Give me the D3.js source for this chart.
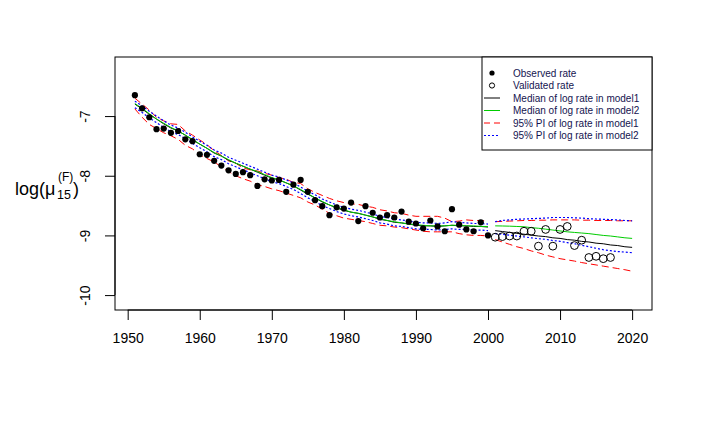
<!DOCTYPE html>
<html>
<head>
<meta charset="utf-8">
<script src="https://cdn.jsdelivr.net/npm/d3@7"></script>
<style>
  body { margin: 0; background: #fff; }
  text { font-family: "Liberation Sans", Arial, sans-serif; }
</style>
</head>
<body>
<div id="chart"></div>
<script>
// years
var fitYears  = d3.range(1951, 2001);
var predYears = d3.range(2001, 2021);
var obsYears  = d3.range(1951, 2001);
var valYears  = d3.range(2001, 2018);

// observed log rates 1951-2000
var observed = [
  -6.65, -6.87, -7.02, -7.22, -7.21, -7.28, -7.25, -7.39, -7.42, -7.64,
  -7.65, -7.75, -7.83, -7.91, -7.97, -7.94, -7.99, -8.17, -8.06, -8.08,
  -8.07, -8.27, -8.15, -8.07, -8.27, -8.41, -8.51, -8.66, -8.53, -8.55,
  -8.45, -8.76, -8.51, -8.62, -8.70, -8.66, -8.70, -8.60, -8.77, -8.80,
  -8.88, -8.75, -8.85, -8.93, -8.56, -8.82, -8.90, -8.93, -8.78, -9.00
];

// validation rates 2001-2017
var validated = [
  -9.03, -9.02, -9.01, -9.01, -8.93, -8.93, -9.18, -8.90, -9.18, -8.90,
  -8.85, -9.17, -9.08, -9.37, -9.35, -9.39, -9.37
];

// fitted medians and 95% PI, 1951-2000
var fitMed1 = [
  -6.80, -6.88, -6.97, -7.05, -7.13, -7.20, -7.25, -7.32, -7.40, -7.47,
  -7.54, -7.62, -7.67, -7.74, -7.79, -7.84, -7.89, -7.94, -7.99, -8.04,
  -8.07, -8.12, -8.17, -8.24, -8.31, -8.37, -8.44, -8.49, -8.54, -8.58,
  -8.61, -8.63, -8.66, -8.69, -8.73, -8.75, -8.78, -8.79, -8.81, -8.83,
  -8.84, -8.84, -8.85, -8.84, -8.83, -8.84, -8.84, -8.85, -8.85, -8.86
];
var fitMed2 = [
  -6.79, -6.87, -6.96, -7.05, -7.12, -7.19, -7.25, -7.32, -7.39, -7.47,
  -7.54, -7.61, -7.67, -7.73, -7.79, -7.84, -7.89, -7.93, -7.98, -8.03,
  -8.07, -8.12, -8.17, -8.23, -8.30, -8.37, -8.43, -8.49, -8.53, -8.57,
  -8.61, -8.63, -8.66, -8.69, -8.72, -8.75, -8.77, -8.79, -8.81, -8.82,
  -8.83, -8.84, -8.84, -8.84, -8.83, -8.83, -8.84, -8.84, -8.85, -8.85
];
var fitLo1 = [
  -6.88, -7.02, -7.14, -7.21, -7.28, -7.33, -7.39, -7.49, -7.55, -7.65,
  -7.71, -7.77, -7.85, -7.93, -8.00, -8.05, -8.09, -8.15, -8.18, -8.22,
  -8.25, -8.29, -8.33, -8.37, -8.44, -8.49, -8.56, -8.63, -8.67, -8.71,
  -8.73, -8.75, -8.77, -8.80, -8.83, -8.84, -8.86, -8.87, -8.89, -8.91,
  -8.93, -8.94, -8.94, -8.94, -8.94, -8.97, -8.99, -9.00, -9.00, -9.01
];
var fitHi1 = [
  -6.70, -6.80, -6.90, -7.02, -7.08, -7.13, -7.14, -7.25, -7.32, -7.40,
  -7.48, -7.58, -7.66, -7.75, -7.79, -7.87, -7.90, -7.92, -7.96, -7.99,
  -8.03, -8.06, -8.11, -8.13, -8.22, -8.28, -8.33, -8.38, -8.42, -8.45,
  -8.47, -8.48, -8.51, -8.53, -8.57, -8.59, -8.62, -8.63, -8.66, -8.68,
  -8.68, -8.68, -8.68, -8.71, -8.77, -8.76, -8.74, -8.75, -8.75, -8.76
];
var fitLo2 = [
  -6.86, -6.94, -7.03, -7.11, -7.19, -7.26, -7.31, -7.38, -7.46, -7.53,
  -7.60, -7.68, -7.73, -7.80, -7.85, -7.90, -7.95, -8.00, -8.05, -8.10,
  -8.13, -8.18, -8.23, -8.30, -8.37, -8.43, -8.50, -8.55, -8.60, -8.64,
  -8.67, -8.69, -8.72, -8.75, -8.79, -8.81, -8.84, -8.85, -8.87, -8.89,
  -8.90, -8.90, -8.91, -8.90, -8.89, -8.90, -8.90, -8.91, -8.91, -8.92
];
var fitHi2 = [
  -6.75, -6.83, -6.92, -7.00, -7.08, -7.15, -7.20, -7.27, -7.35, -7.42,
  -7.49, -7.57, -7.62, -7.69, -7.74, -7.79, -7.84, -7.89, -7.94, -7.99,
  -8.02, -8.07, -8.12, -8.19, -8.26, -8.32, -8.39, -8.44, -8.49, -8.53,
  -8.56, -8.58, -8.61, -8.64, -8.68, -8.70, -8.73, -8.74, -8.76, -8.78,
  -8.79, -8.79, -8.80, -8.79, -8.77, -8.78, -8.79, -8.80, -8.80, -8.81
];

// forecast medians and 95% PI, 2001-2020
var predMed1 = [
  -8.92, -8.935, -8.95, -8.965, -8.98, -8.995, -9.01, -9.02, -9.04, -9.05,
  -9.07, -9.08, -9.10, -9.11, -9.13, -9.14, -9.16, -9.17, -9.19, -9.20
];
var predMed2 = [
  -8.84, -8.842, -8.845, -8.85, -8.855, -8.87, -8.88, -8.895, -8.91, -8.925,
  -8.94, -8.95, -8.96, -8.97, -8.985, -9.00, -9.01, -9.025, -9.04, -9.05
];
var predLo1 = [
  -9.07, -9.11, -9.15, -9.19, -9.22, -9.26, -9.29, -9.33, -9.36, -9.39,
  -9.41, -9.43, -9.455, -9.475, -9.495, -9.515, -9.535, -9.555, -9.575, -9.60
];
var predHi1 = [
  -8.77, -8.765, -8.76, -8.755, -8.75, -8.75, -8.745, -8.745, -8.74, -8.74,
  -8.74, -8.74, -8.745, -8.745, -8.75, -8.75, -8.75, -8.755, -8.755, -8.755
];
var predLo2 = [
  -8.97, -8.98, -8.995, -9.01, -9.025, -9.04, -9.055, -9.065, -9.085, -9.10,
  -9.12, -9.14, -9.165, -9.19, -9.215, -9.24, -9.255, -9.27, -9.28, -9.29
];
var predHi2 = [
  -8.77, -8.75, -8.74, -8.73, -8.725, -8.72, -8.715, -8.71, -8.70, -8.70,
  -8.70, -8.705, -8.71, -8.72, -8.725, -8.73, -8.735, -8.74, -8.75, -8.755
];

var xTicks = [1950, 1960, 1970, 1980, 1990, 2000, 2010, 2020];
var yTicks = [-10, -9, -8, -7];
var legendLabels = [
  "Observed rate",
  "Validated rate",
  "Median of log rate in model1",
  "Median of log rate in model2",
  "95% PI of log rate in model1",
  "95% PI of log rate in model2"
];

var svgWidth = 710;
var svgHeight = 426;
var margin = {top: 57, right: 58, bottom: 116, left: 115};
var width  = svgWidth  - margin.left - margin.right;
var height = svgHeight - margin.top  - margin.bottom;

var svg = d3.select("#chart")
  .append("svg")
  .attr("width", svgWidth)
  .attr("height", svgHeight)
  .style("background", "#fff");

var chartGroup = svg.append("g")
  .attr("transform", `translate(${margin.left}, ${margin.top})`);

// R-style axes: range padded by 4%
var x = d3.scaleLinear().domain([1948.24, 2022.76]).range([0, width]);
var y = d3.scaleLinear().domain([-10.25, -6.01]).range([height, 0]);

var line = d3.line()
  .x(d => x(d[0]))
  .y(d => y(d[1]));

function pairs(years, vals) {
  return years.map((yr, i) => [yr, vals[i]]);
}

var styles = {
  med1: {stroke: "#000", dash: null},
  med2: {stroke: "#00cc00", dash: null},
  pi1:  {stroke: "#ff0000", dash: "7,4"},
  pi2:  {stroke: "#0000ff", dash: "2,2"}
};

var series = [
  [fitYears, fitLo1, "pi1"], [fitYears, fitHi1, "pi1"],
  [predYears, predLo1, "pi1"], [predYears, predHi1, "pi1"],
  [fitYears, fitMed1, "med1"], [predYears, predMed1, "med1"],
  [fitYears, fitMed2, "med2"], [predYears, predMed2, "med2"],
  [fitYears, fitLo2, "pi2"], [fitYears, fitHi2, "pi2"],
  [predYears, predLo2, "pi2"], [predYears, predHi2, "pi2"]
];

series.forEach(function(s) {
  var st = styles[s[2]];
  chartGroup.append("path")
    .datum(pairs(s[0], s[1]))
    .attr("d", line)
    .attr("fill", "none")
    .attr("stroke", st.stroke)
    .attr("stroke-width", s[2] === "pi2" ? 1.2 : 1)
    .attr("stroke-dasharray", st.dash);
});

// points
chartGroup.selectAll(".obs")
  .data(pairs(obsYears, observed))
  .enter()
  .append("circle")
  .attr("class", "obs")
  .attr("cx", d => x(d[0]))
  .attr("cy", d => y(d[1]))
  .attr("r", 3.1)
  .attr("fill", "#000");

chartGroup.selectAll(".val")
  .data(pairs(valYears, validated))
  .enter()
  .append("circle")
  .attr("class", "val")
  .attr("cx", d => x(d[0]))
  .attr("cy", d => y(d[1]))
  .attr("r", 3.9)
  .attr("fill", "none")
  .attr("stroke", "#000")
  .attr("stroke-width", 1);

// plot box
chartGroup.append("rect")
  .attr("x", 0).attr("y", 0)
  .attr("width", width).attr("height", height)
  .attr("fill", "none")
  .attr("stroke", "#000");

// x axis
var xAxis = chartGroup.append("g")
  .attr("transform", `translate(0, ${height})`)
  .call(d3.axisBottom(x).tickValues(xTicks).tickFormat(d3.format("d")).tickSize(10).tickPadding(13));
xAxis.select(".domain").attr("d", `M${x(1950)},0H${x(2020)}`);
xAxis.selectAll("text").attr("font-size", "14px").attr("fill", "#000").style("font-family", "Liberation Sans, Arial, sans-serif");
xAxis.selectAll("line").attr("stroke", "#000");

// y axis with rotated labels
var yAxis = chartGroup.append("g")
  .call(d3.axisLeft(y).tickValues(yTicks).tickSize(10).tickFormat(d => d));
yAxis.select(".domain").attr("d", `M0,${y(-10)}V${y(-7)}`);
yAxis.selectAll("line").attr("stroke", "#000");
yAxis.selectAll("text")
  .attr("x", null).attr("dy", null)
  .attr("transform", "translate(-25, 0) rotate(-90)")
  .attr("text-anchor", "middle")
  .attr("font-size", "14px")
  .attr("fill", "#000")
  .style("font-family", "Liberation Sans, Arial, sans-serif");

// y label: log(mu_15^(F))
var ylab = svg.append("g");
ylab.append("text").attr("x", 15).attr("y", 195).attr("font-size", "18px").text("log(\u03bc");
ylab.append("text").attr("x", 57).attr("y", 199).attr("font-size", "12.5px").text("15");
ylab.append("text").attr("x", 58).attr("y", 181).attr("font-size", "12px").text("(F)");
ylab.append("text").attr("x", 73).attr("y", 195).attr("font-size", "18px").text(")");

// legend (top right, inside plot box)
var legW = 170, legH = 93;
var legend = chartGroup.append("g")
  .attr("transform", `translate(${width - legW}, 0)`);

legend.append("rect")
  .attr("width", legW).attr("height", legH)
  .attr("fill", "#fff").attr("stroke", "#000");

var rowY = d => 16 + d * 12.5;

legend.append("circle").attr("cx", 10).attr("cy", rowY(0)).attr("r", 2.6).attr("fill", "#000");
legend.append("circle").attr("cx", 10).attr("cy", rowY(1)).attr("r", 2.6)
  .attr("fill", "none").attr("stroke", "#000");

["med1", "med2", "pi1", "pi2"].forEach(function(k, i) {
  legend.append("line")
    .attr("x1", 2).attr("x2", 18)
    .attr("y1", rowY(i + 2)).attr("y2", rowY(i + 2))
    .attr("stroke", styles[k].stroke)
    .attr("stroke-width", k === "pi2" ? 1.2 : 1)
    .attr("stroke-dasharray", k === "pi1" ? "6,4" : styles[k].dash);
});

legend.selectAll(".legtext")
  .data(legendLabels)
  .enter()
  .append("text")
  .attr("class", "legtext")
  .attr("x", 31)
  .attr("y", (d, i) => rowY(i) + 3.6)
  .attr("font-size", "10px")
  .attr("fill", "#141450")
  .text(d => d);
</script>
</body>
</html>
